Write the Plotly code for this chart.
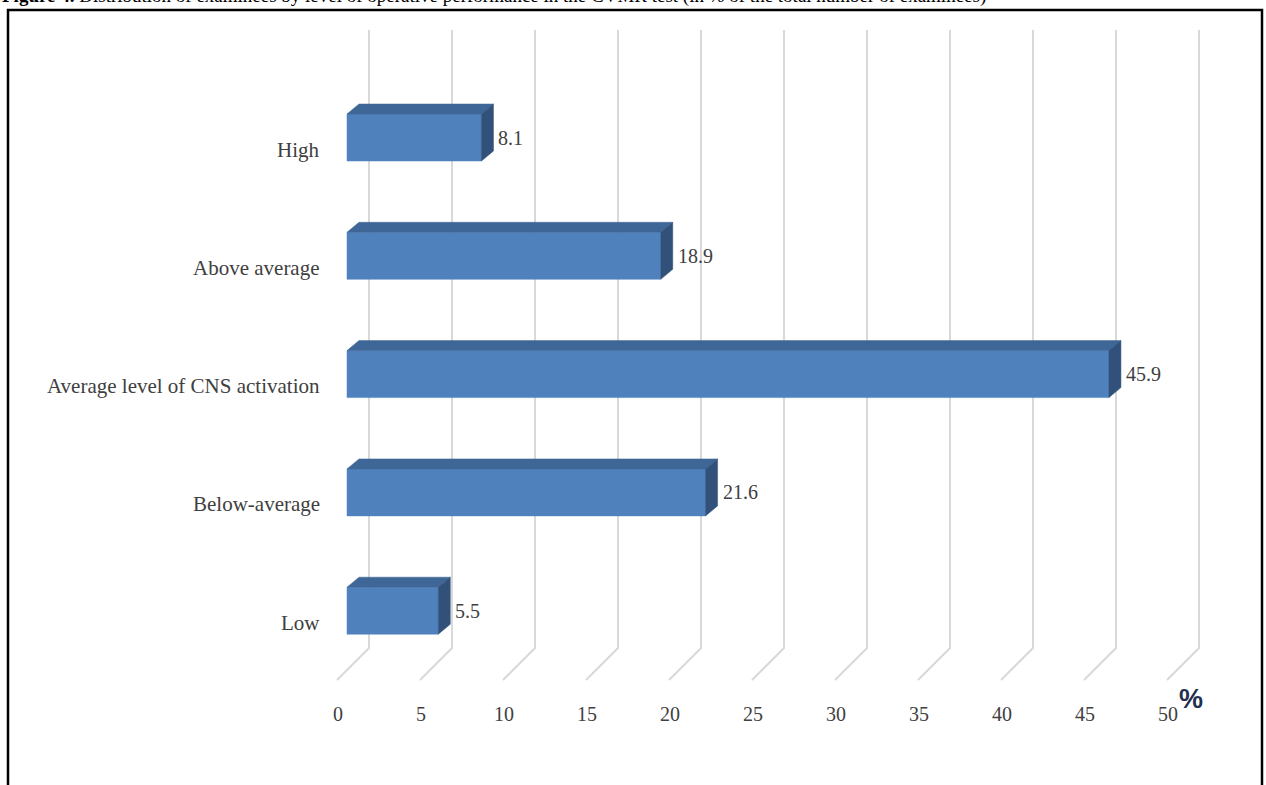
import plotly.graph_objects as go

# Data
categories = ["High", "Above average", "Average level of CNS activation", "Below-average", "Low"]
values = [8.1, 18.9, 45.9, 21.6, 5.5]
tick_values = [0, 5, 10, 15, 20, 25, 30, 35, 40, 45, 50]
tick_labels = ["0", "5", "10", "15", "20", "25", "30", "35", "40", "45", "50"]

title_text = ("<b>Figure 4.</b> Distribution of examinees by level of operative performance "
              "in the CVMR test (in % of the total number of examinees)")

# Page geometry (pixels)
W, H = 1266, 785
PLOT_BOTTOM = 690          # bottom of plotting area; x tick labels sit below it
X0, SX = 338.0, 16.6       # pixel x of value 0 on the front floor edge, px per unit
ROW0, SY = 610.7, 118.3    # pixel y of the bottom row centre, px per row

# 3-D look: offsets in pixels
BAR_FRONT = 9              # bar front face, measured from front floor edge
BAR_DX, BAR_DY = 12, 10    # bar depth (right / up)
WALL_DX = 31               # back wall distance from front floor edge
FLOOR_DEPTH = 32
BAR_HALF = 23.5
GRID_TOP_PX = 30

def ux(px):   # pixel distance -> x data units
    return px / SX

def uy(px):   # pixel distance -> y data units
    return px / SY

def paper_y(px):  # pixel row -> paper y
    return (PLOT_BOTTOM - px) / PLOT_BOTTOM

FRONT = "#4F81BD"
TOP = "#3E6696"
SIDE = "#31517A"
GRID = "#D9D9D9"
TEXT = "#404040"
FONT = "Liberation Serif"

fig = go.Figure()

# gridlines: vertical on the back wall, then diagonal across the floor
y_floor_front = (ROW0 - 680) / SY
y_floor_back = (ROW0 - 648) / SY
y_grid_top = (ROW0 - GRID_TOP_PX) / SY
for v in tick_values:
    xb = v + ux(WALL_DX)
    fig.add_trace(go.Scatter(
        x=[xb, xb, xb - ux(FLOOR_DEPTH)],
        y=[y_grid_top, y_floor_back, y_floor_front],
        mode="lines", line=dict(color=GRID, width=2),
        hoverinfo="skip", showlegend=False))

# bars
n = len(categories)
for i, (cat, val) in enumerate(zip(categories, values)):
    p = n - 1 - i                      # row position, Low at the bottom
    yt = p + uy(BAR_HALF)              # top edge of the front face
    yb = p - uy(BAR_HALF)
    xl = ux(BAR_FRONT)
    xr = xl + val
    dx, dy = ux(BAR_DX), uy(BAR_DY)
    # front face
    fig.add_trace(go.Scatter(
        x=[xl, xr, xr, xl, xl], y=[yb, yb, yt, yt, yb],
        fill="toself", fillcolor=FRONT, mode="lines",
        line=dict(color=FRONT, width=0.5), hoverinfo="skip", showlegend=False))
    # top face
    fig.add_trace(go.Scatter(
        x=[xl, xl + dx, xr + dx, xr, xl], y=[yt, yt + dy, yt + dy, yt, yt],
        fill="toself", fillcolor=TOP, mode="lines",
        line=dict(color=TOP, width=0.5), hoverinfo="skip", showlegend=False))
    # side face
    fig.add_trace(go.Scatter(
        x=[xr, xr + dx, xr + dx, xr, xr], y=[yt, yt + dy, yb + dy, yb, yt],
        fill="toself", fillcolor=SIDE, mode="lines",
        line=dict(color=SIDE, width=0.5), hoverinfo="skip", showlegend=False))
    # value label
    fig.add_annotation(x=xr + dx + ux(3), y=p, text=f"{val}", showarrow=False,
                       xanchor="left", yanchor="middle",
                       font=dict(family=FONT, size=20, color=TEXT))
    # category label
    fig.add_annotation(x=ux(322 - X0), y=p - uy(12), text=cat, showarrow=False,
                       xanchor="right", yanchor="middle",
                       font=dict(family=FONT, size=21, color=TEXT))

# unit sign after the last tick label
fig.add_annotation(x=(1191 - X0) / SX, yref="paper", y=paper_y(699), text="<b>%</b>",
                   showarrow=False, xanchor="center", yanchor="middle",
                   font=dict(family="Liberation Sans Narrow, Liberation Sans", size=27,
                             color="#1F3050"))

# frame around the figure
fig.add_shape(type="rect", xref="paper", yref="paper",
              x0=8 / W, x1=1262 / W, y0=paper_y(800), y1=paper_y(10),
              line=dict(color="black", width=2.5), layer="above")

# figure caption (runs off the top of the page)
fig.add_annotation(xref="paper", yref="paper", x=0, xanchor="left",
                   y=paper_y(9), yanchor="bottom",
                   text=title_text, showarrow=False,
                   font=dict(family=FONT, size=19, color="black"))

fig.update_layout(
    width=W, height=H, autosize=False,
    margin=dict(l=0, r=0, t=0, b=H - PLOT_BOTTOM, pad=0),
    paper_bgcolor="white", plot_bgcolor="white",
    xaxis=dict(range=[-X0 / SX, (W - X0) / SX], showgrid=False, zeroline=False,
               showline=False, tickvals=tick_values, ticktext=tick_labels,
               ticks="outside", ticklen=6, tickcolor="rgba(0,0,0,0)",
               tickfont=dict(family=FONT, size=20, color=TEXT), fixedrange=True),
    yaxis=dict(range=[(ROW0 - PLOT_BOTTOM) / SY, ROW0 / SY], visible=False, fixedrange=True),
)

fig.write_html("out.html")
